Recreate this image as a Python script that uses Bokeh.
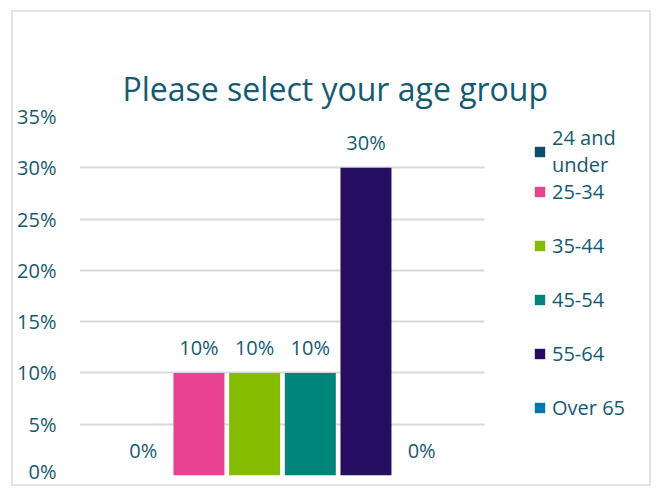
from bokeh.plotting import figure
from bokeh.models import ColumnDataSource, FixedTicker, NumeralTickFormatter, LabelSet, Legend, LegendItem, Range1d, Title
from bokeh.core.properties import value
from bokeh.embed import file_html
from bokeh.resources import INLINE

title_text = "Please select your age group"
categories = ["24 and\nunder", "25-34", "35-44", "45-54", "55-64", "Over 65"]
values = [0.0, 0.10, 0.10, 0.10, 0.30, 0.0]
value_labels = ["0%", "10%", "10%", "10%", "30%", "0%"]
colors = ["#0B4F6C", "#E84393", "#86BC00", "#00857A", "#250E62", "#0077A8"]
y_ticks = [0.0, 0.05, 0.10, 0.15, 0.20, 0.25, 0.30, 0.35]

TXT = "#145A73"
FONT = "Open Sans"

X0, XPLOT, XEND = -1.146, 6.129, 9.093   # plotting area, then room for legend

src = ColumnDataSource(dict(x=list(range(len(categories))), top=values, lab=value_labels))

p = figure(frame_width=570, frame_height=359,
           output_backend="svg", toolbar_location=None,
           title=" ",
           x_range=Range1d(X0, XEND), y_range=Range1d(0, 0.35),
           min_border_left=66, min_border_bottom=9, min_border_right=0, min_border_top=104)

# the built-in title acts as an invisible spacer next to the plot area
p.title.text_font_size = "20px"
p.title.standoff = 10
p.title.text_alpha = 0

main_title = Title(text=title_text, align="left", offset=43, text_font=FONT,
                   text_font_size="32px", text_font_style="normal", text_color=TXT,
                   vertical_align="top", standoff=10)
p.add_layout(main_title, "above")

p.outline_line_color = None
p.xaxis.visible = False
p.xgrid.grid_line_color = None
p.ygrid.grid_line_color = "#D9D9D9"
p.ygrid.grid_line_width = 2
grid = p.ygrid[0]
if "cross_bounds" in grid.properties():
    grid.cross_bounds = (X0, XPLOT)

p.yaxis.ticker = FixedTicker(ticks=y_ticks)
p.yaxis.formatter = NumeralTickFormatter(format="0%")
p.yaxis.axis_line_color = None
p.yaxis.major_tick_line_color = None
p.yaxis.minor_tick_line_color = None
p.yaxis.major_tick_out = 0
p.yaxis.major_tick_in = 0
p.yaxis.minor_tick_out = 0
p.yaxis.major_label_standoff = 23
p.yaxis.major_label_text_font = FONT
p.yaxis.major_label_text_font_size = "20px"
p.yaxis.major_label_text_color = TXT

items = []
for i in range(len(categories)):
    r = p.vbar(x=[i], top=[values[i]], width=0.916, fill_color=colors[i], line_color=None)
    items.append(LegendItem(label=categories[i], renderers=[r]))

labels = LabelSet(x="x", y="top", text="lab", source=src, text_align="center",
                  text_baseline="alphabetic", y_offset=18, text_font=value(FONT),
                  text_font_size=value("20px"), text_color=TXT)
p.add_layout(labels)

common = dict(padding=0, margin=0, glyph_width=13, glyph_height=13, label_text_font=FONT,
              label_text_font_size="20px", label_text_color=TXT, label_height=20,
              spacing=27, border_line_color=None, background_fill_alpha=0, label_standoff=6)
legend_a = Legend(items=items[:1], location=(454, 297), **common)
legend_b = Legend(items=items[1:], location=(454, 54), **common)
p.add_layout(legend_a, "center")
p.add_layout(legend_b, "center")

p.styles = {"margin": "10px 0 0 11px", "border": "2px solid #E4E4E4"}

open("out.html", "w").write(file_html(p, INLINE))
